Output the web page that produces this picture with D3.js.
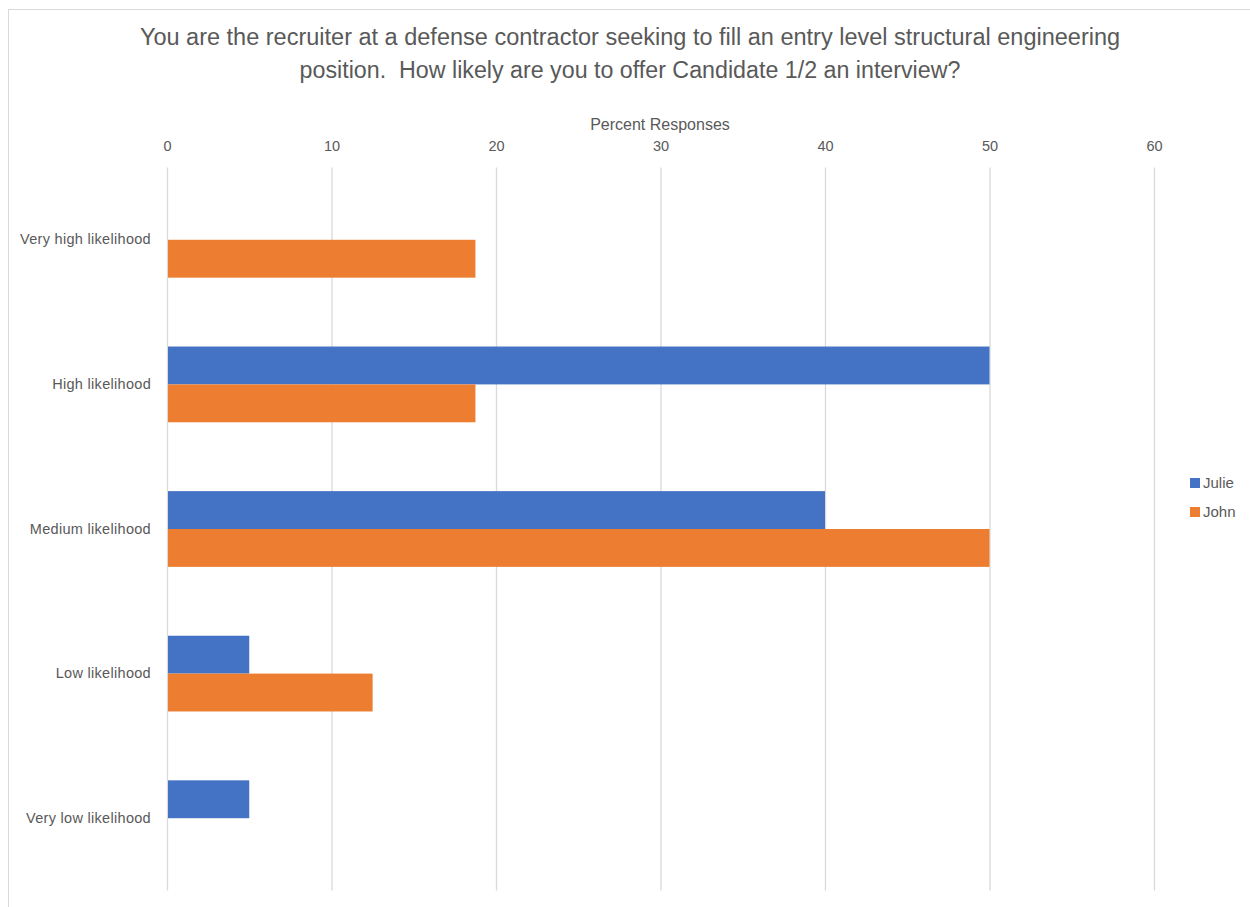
<!DOCTYPE html>
<html><head><meta charset="utf-8">
<script src="https://cdn.jsdelivr.net/npm/d3@7"></script>
<style>body{margin:0;background:#fff;} svg{display:block;font-family:"Liberation Sans",Arial,sans-serif;} text{white-space:pre;}</style>
</head><body>
<svg id="c" width="1250" height="907"></svg>
<script>
const titleLines = ["You are the recruiter at a defense contractor seeking to fill an entry level structural engineering",
                    "position.  How likely are you to offer Candidate 1/2 an interview?"];
const axisTitle = "Percent Responses";
const categories = ["Very high likelihood","High likelihood","Medium likelihood","Low likelihood","Very low likelihood"];
const seriesNames = ["Julie","John"];
const julie = [0, 50, 40, 5, 5];
const john = [18.75, 18.75, 50, 12.5, 0];
const tickValues = [0,10,20,30,40,50,60];
const colors = ["#4472C4","#ED7D31"];

const svg = d3.select("#c");
const textColor = "#595959";
// chart border
svg.append("rect").attr("x",8.5).attr("y",9.5).attr("width",1260).attr("height",920)
  .attr("fill","none").attr("stroke","#d9d9d9").attr("stroke-width",1);

const plot = {left:167, right:1154, top:167.5, bottom:890.5};
const x = d3.scaleLinear().domain([0,60]).range([plot.left, plot.right]);
const y = d3.scaleBand().domain(categories).range([plot.top, plot.bottom]).paddingInner(0.4762).paddingOuter(0.2381);
const ySub = d3.scaleBand().domain(seriesNames).range([0, y.bandwidth()]);

// title
const tw = [981, 661];
titleLines.forEach((t,i)=>{
  const el = svg.append("text").attr("x",630).attr("y",i===0?45:78).attr("text-anchor","middle")
    .attr("fill",textColor).attr("font-size",20).text(t);
  const L = el.node().getComputedTextLength();
  el.attr("font-size", 20*tw[i]/L);
});

// gridlines
svg.append("g").selectAll("line").data(tickValues).join("line")
  .attr("x1",d=>x(d)+0.5).attr("x2",d=>x(d)+0.5).attr("y1",plot.top).attr("y2",plot.bottom)
  .attr("stroke","#d9d9d9").attr("stroke-width",1.3);

// top axis
const axis = d3.axisTop(x).tickValues(tickValues).tickSize(0).tickPadding(0).tickFormat(d3.format("d"));
const ag = svg.append("g").attr("transform",`translate(0,${151})`).call(axis);
ag.select(".domain").remove();
ag.selectAll("text").attr("fill",textColor).attr("font-size",14.5).attr("dy",0);

svg.append("text").attr("x",660).attr("y",130).attr("text-anchor","middle").attr("fill",textColor)
  .attr("font-size",16).text(axisTitle);

// category labels
const yAxis = d3.axisLeft(y).tickSize(0).tickPadding(16);
const yg = svg.append("g").attr("transform",`translate(${plot.left},0)`).call(yAxis);
yg.select(".domain").remove();
yg.selectAll("text").attr("fill",textColor).attr("font-size",14.5).attr("letter-spacing",0.3);

// bars
const data = categories.map((c,i)=>({cat:c, vals:[{s:"Julie",v:julie[i]},{s:"John",v:john[i]}]}));
const g = svg.append("g");
g.selectAll("g").data(data).join("g").attr("transform",d=>`translate(0,${y(d.cat)})`)
  .selectAll("rect").data(d=>d.vals.filter(o=>o.v>0)).join("rect")
  .attr("x",x(0)+1).attr("y",d=>ySub(d.s)).attr("height",ySub.bandwidth())
  .attr("width",d=>x(d.v)-x(0)-1).attr("fill",(d)=>colors[seriesNames.indexOf(d.s)]);

// legend
const lg = svg.append("g").attr("transform","translate(1190,478)");
seriesNames.forEach((s,i)=>{
  lg.append("rect").attr("x",0).attr("y",i*29).attr("width",10).attr("height",10).attr("fill",colors[i]);
  lg.append("text").attr("x",13).attr("y",i*29+10).attr("fill",textColor).attr("font-size",15).text(s);
});
</script>
</body></html>
